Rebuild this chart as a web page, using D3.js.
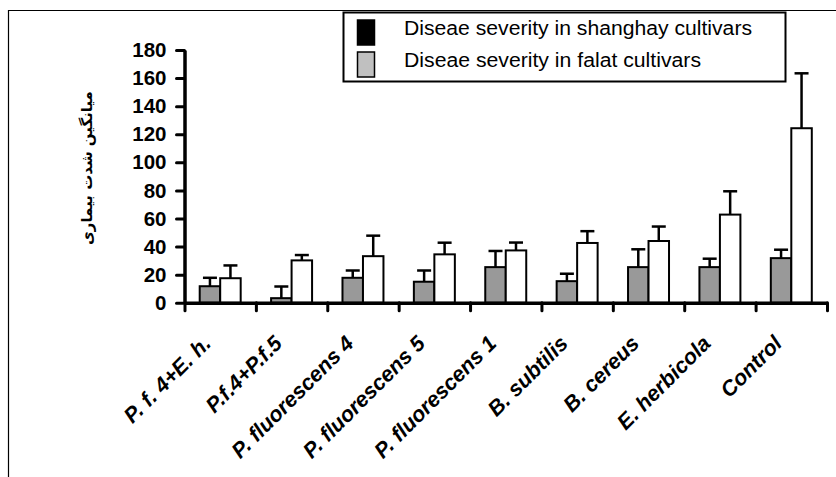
<!DOCTYPE html>
<html>
<head>
<meta charset="utf-8">
<script src="https://cdn.jsdelivr.net/npm/d3@7"></script>
<style>
  body { margin: 0; background: #fff; }
  svg { display: block; }
</style>
</head>
<body>
<div id="chart"></div>
<script>
// data
const categories = ['P. f. 4+E. h.', 'P.f.4+P.f.5', 'P. fluorescens 4', 'P. fluorescens 5',
    'P. fluorescens 1', 'B. subtilis', 'B. cereus', 'E. herbicola', 'Control'];
const shanghay = [11.8, 3.3, 17.8, 15, 25.4, 15.4, 25.4, 25.4, 31.8];
const shanghayErr = [6, 8.3, 5.2, 8, 11.5, 5.3, 12.7, 6, 6];
const falat = [17.5, 30.2, 33.2, 34.5, 37.3, 42.6, 44, 62.8, 124.3];
const falatErr = [9.1, 3.8, 14.6, 8.3, 5.6, 8.4, 10.3, 16.6, 39.1];
const yTicks = [0, 20, 40, 60, 80, 100, 120, 140, 160, 180];
const legendLabels = ['Diseae severity in shanghay cultivars', 'Diseae severity in falat cultivars'];
const yTitle = 'میانگین شدت بیماری';

const width = 836, height = 477;

const svg = d3.select('#chart')
    .append('svg')
    .attr('width', width)
    .attr('height', height);

svg.append('rect')
    .attr('width', width)
    .attr('height', height)
    .attr('fill', '#fff');

// outer frame (only top and left edges show)
svg.append('path')
    .attr('d', 'M8.5,477 V10.5 H836')
    .attr('fill', 'none')
    .attr('stroke', '#000')
    .attr('stroke-width', 1.2);

const x = d3.scaleBand()
    .domain(categories)
    .range([184.5, 827])
    .padding(0);

const xTicks = d3.scaleLinear()
    .domain([0, categories.length])
    .range([184.5, 827]);

const bw = x.bandwidth();
const xi = d3.scaleBand()
    .domain(['shanghay', 'falat'])
    .range([bw * 0.213, bw * 0.787]);

const y = d3.scaleLinear()
    .domain([0, 180])
    .range([302.8, 50]);

// bars
const series = [
    { key: 'shanghay', values: shanghay, err: shanghayErr, fill: '#999999' },
    { key: 'falat', values: falat, err: falatErr, fill: '#ffffff' }
];

series.forEach(s => {
    const g = svg.append('g');
    categories.forEach((c, i) => {
        const bx = x(c) + xi(s.key);
        const cx = bx + xi.bandwidth() / 2;
        // error bar
        g.append('line')
            .attr('x1', cx).attr('x2', cx)
            .attr('y1', y(s.values[i])).attr('y2', y(s.values[i] + s.err[i]))
            .attr('stroke', '#000').attr('stroke-width', 2.5);
        g.append('line')
            .attr('x1', cx - 7).attr('x2', cx + 7)
            .attr('y1', y(s.values[i] + s.err[i])).attr('y2', y(s.values[i] + s.err[i]))
            .attr('stroke', '#000').attr('stroke-width', 2.5);
        g.append('rect')
            .attr('x', bx)
            .attr('y', y(s.values[i]))
            .attr('width', xi.bandwidth())
            .attr('height', y(0) - y(s.values[i]))
            .attr('fill', s.fill)
            .attr('stroke', '#000')
            .attr('stroke-width', 2);
    });
});

// y axis
const yAxis = svg.append('g')
    .attr('transform', 'translate(184.5,0)')
    .call(d3.axisLeft(y).tickValues(yTicks).tickSize(8).tickSizeOuter(0).tickPadding(10));
yAxis.select('.domain').attr('stroke-width', 3.5);
yAxis.selectAll('.tick line').attr('stroke-width', 3).attr('stroke-linecap', 'round');
yAxis.selectAll('.tick text')
    .attr('font-family', 'Liberation Sans, Arial, sans-serif')
    .attr('font-weight', 'bold')
    .attr('font-size', 20.5)
    .attr('fill', '#000');

// x axis (ticks between categories)
const xAxis = svg.append('g')
    .attr('transform', `translate(0,${y(0)})`)
    .call(d3.axisBottom(xTicks).ticks(categories.length).tickSize(8).tickSizeOuter(0).tickFormat(''));
xAxis.select('.domain').attr('stroke-width', 3.5);
xAxis.selectAll('.tick line').attr('stroke-width', 3).attr('stroke-linecap', 'round');

// category labels
svg.append('g')
    .selectAll('text')
    .data(categories)
    .join('text')
    .attr('transform', d => `translate(${x(d) + bw / 2 - 8},${y(0) + 42}) rotate(-45)`)
    .attr('text-anchor', 'end')
    .attr('font-family', 'Liberation Sans, Arial, sans-serif')
    .attr('font-weight', 'bold')
    .attr('font-style', 'italic')
    .attr('font-size', 21.5)
    .text(d => d);

// y title
svg.append('text')
    .attr('transform', 'translate(92,168) rotate(-90)')
    .attr('text-anchor', 'middle')
    .attr('font-family', 'DejaVu Sans, sans-serif')
    .attr('font-weight', 'bold')
    .attr('font-size', 15)
    .attr('direction', 'rtl')
    .text(yTitle);

// legend
const legend = svg.append('g');
legend.append('rect')
    .attr('x', 343.5).attr('y', 12.5)
    .attr('width', 442).attr('height', 69)
    .attr('fill', '#fff')
    .attr('stroke', '#000')
    .attr('stroke-width', 2);

const swatchFill = ['#000000', '#c0c0c0'];
const legendY = d3.scalePoint().domain(legendLabels).range([20, 52]);
const legendWidths = [348, 297];
legendLabels.forEach((l, i) => {
    legend.append('rect')
        .attr('x', 357.5).attr('y', legendY(l))
        .attr('width', 17).attr('height', 25)
        .attr('fill', swatchFill[i])
        .attr('stroke', '#000')
        .attr('stroke-width', 1.5);
    legend.append('text')
        .attr('x', 404)
        .attr('y', legendY(l) + 14.5)
        .attr('font-family', 'Liberation Sans, Arial, sans-serif')
        .attr('font-size', 20)
        .attr('textLength', legendWidths[i])
        .attr('lengthAdjust', 'spacingAndGlyphs')
        .text(l);
});
</script>
</body>
</html>
